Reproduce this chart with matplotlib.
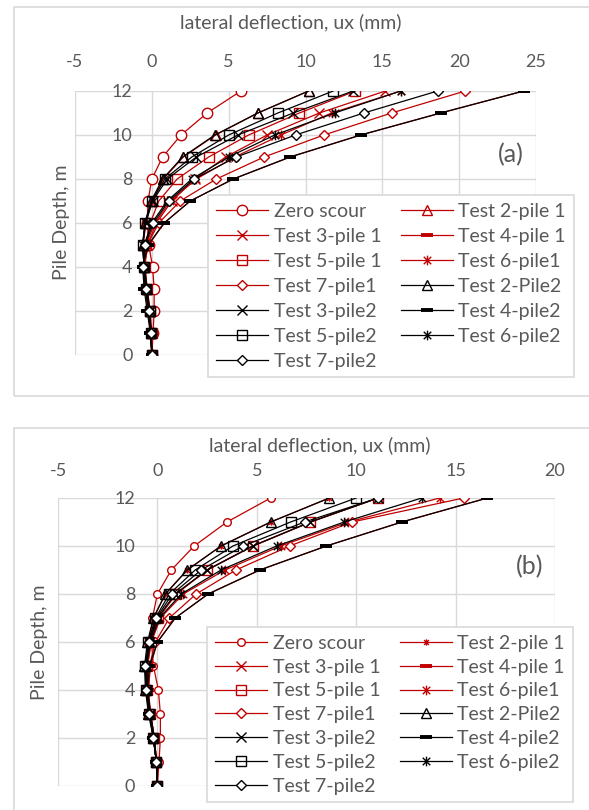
import numpy as np
import matplotlib.pyplot as plt
from matplotlib.path import Path
from matplotlib.patches import Rectangle

plt.rcParams['font.family'] = ['Lato', 'DejaVu Sans']
plt.rcParams['axes.unicode_minus'] = False

# pile depth (m), same for every series
depth = [12, 11, 10, 9, 8, 7, 6, 5, 4, 3, 2, 1, 0]

# (a) lateral deflection ux (mm)
a_zero = [5.8, 3.6, 1.9, 0.7, 0.0, -0.25, -0.3, -0.2, 0.05, 0.15, 0.15, 0.08, 0.0]
a_t2_p1 = [10.2, 6.9, 4.15, 2.05, 0.75, 0.0, -0.4, -0.55, -0.45, -0.3, -0.15, -0.05, 0.0]
a_t3_p1 = [15.2, 10.9, 7.5, 4.8, 2.8, 1.3, 0.3, -0.3, -0.45, -0.35, -0.15, -0.05, 0.0]
a_t4_p1 = [24.2, 18.8, 13.6, 9.0, 5.3, 2.5, 0.8, -0.2, -0.55, -0.45, -0.25, -0.08, 0.0]
a_t5_p1 = [13.25, 9.6, 6.3, 3.7, 1.65, 0.45, -0.1, -0.4, -0.45, -0.3, -0.1, 0.0, 0.0]
a_t6_p1 = [16.2, 11.7, 8.4, 5.4, 2.9, 1.2, 0.2, -0.4, -0.5, -0.35, -0.15, -0.05, 0.0]
a_t7_p1 = [20.4, 15.6, 11.2, 7.3, 4.2, 1.85, 0.45, -0.3, -0.5, -0.4, -0.2, -0.05, 0.0]
a_t2_p2 = [10.2, 6.9, 4.1, 2.0, 0.7, -0.05, -0.45, -0.6, -0.5, -0.3, -0.15, -0.05, 0.0]
a_t3_p2 = [13.1, 9.2, 5.6, 2.9, 1.0, 0.05, -0.4, -0.6, -0.5, -0.35, -0.15, -0.05, 0.0]
a_t4_p2 = [24.2, 18.8, 13.6, 9.0, 5.3, 2.5, 0.8, -0.25, -0.6, -0.5, -0.3, -0.1, 0.0]
a_t5_p2 = [11.8, 8.2, 5.0, 2.6, 0.85, 0.0, -0.45, -0.6, -0.5, -0.35, -0.15, -0.05, 0.0]
a_t6_p2 = [16.2, 11.9, 8.0, 5.0, 2.6, 1.0, 0.0, -0.5, -0.55, -0.4, -0.2, -0.05, 0.0]
a_t7_p2 = [18.6, 13.8, 9.35, 5.5, 2.75, 1.1, 0.1, -0.45, -0.55, -0.4, -0.2, -0.05, 0.0]

# (b) lateral deflection ux (mm)
b_zero = [5.7, 3.5, 1.85, 0.7, 0.0, -0.25, -0.3, -0.2, 0.05, 0.15, 0.15, 0.08, 0.0]
b_t2_p1 = [8.65, 5.7, 3.2, 1.5, 0.4, -0.2, -0.45, -0.6, -0.55, -0.4, -0.2, -0.05, 0.0]
b_t3_p1 = [11.1, 7.7, 4.8, 2.5, 0.9, 0.05, -0.35, -0.55, -0.5, -0.35, -0.15, -0.05, 0.0]
b_t4_p1 = [16.6, 12.3, 8.5, 5.15, 2.55, 0.9, 0.0, -0.35, -0.45, -0.35, -0.2, -0.05, 0.0]
b_t5_p1 = [11.1, 7.7, 4.8, 2.5, 0.95, 0.05, -0.35, -0.5, -0.5, -0.35, -0.15, -0.05, 0.0]
b_t6_p1 = [14.2, 9.6, 6.2, 3.4, 1.3, 0.15, -0.3, -0.5, -0.5, -0.35, -0.15, -0.05, 0.0]
b_t7_p1 = [15.4, 9.8, 6.65, 3.95, 1.95, 0.6, -0.1, -0.4, -0.45, -0.35, -0.15, -0.05, 0.0]
b_t2_p2 = [8.65, 5.7, 3.2, 1.5, 0.4, -0.2, -0.5, -0.65, -0.6, -0.45, -0.2, -0.05, 0.0]
b_t3_p2 = [11.1, 7.7, 4.8, 2.5, 0.9, 0.0, -0.4, -0.55, -0.5, -0.35, -0.2, -0.05, 0.0]
b_t4_p2 = [16.6, 12.3, 8.5, 5.15, 2.55, 0.9, 0.0, -0.4, -0.5, -0.4, -0.2, -0.05, 0.0]
b_t5_p2 = [10.0, 6.7, 3.8, 1.9, 0.6, -0.1, -0.45, -0.6, -0.55, -0.4, -0.2, -0.05, 0.0]
b_t6_p2 = [13.3, 9.4, 6.0, 3.2, 1.2, 0.1, -0.35, -0.55, -0.5, -0.35, -0.15, -0.05, 0.0]
b_t7_p2 = [11.1, 7.4, 4.3, 2.2, 0.75, -0.05, -0.4, -0.6, -0.55, -0.4, -0.2, -0.05, 0.0]

labels = ['Zero scour', 'Test 2-pile 1', 'Test 3-pile 1', 'Test 4-pile 1',
          'Test 5-pile 1', 'Test 6-pile1', 'Test 7-pile1', 'Test 2-Pile2',
          'Test 3-pile2', 'Test 4-pile2', 'Test 5-pile2', 'Test 6-pile2',
          'Test 7-pile2']

RED = '#C00000'
GREY = '#595959'
GRID = '#D9D9D9'

# excel-like "star" marker: an x with a vertical bar through it
star = Path([(-1, -1), (1, 1), (-1, 1), (1, -1), (0, -1.3), (0, 1.3)],
            [Path.MOVETO, Path.LINETO] * 3)

# marker, face colour, size for (a) and (b)
mk_a = [('o', 'white', 7.5), ('^', 'none', 7.5), ('x', 'none', 7), ('_', 'none', 8),
        ('s', 'none', 7), (star, 'none', 7), ('D', 'white', 5.5), ('^', 'none', 7.5),
        ('x', 'none', 7), ('_', 'none', 8), ('s', 'none', 7), (star, 'none', 7),
        ('D', 'white', 5.5)]
mk_b = [('o', 'white', 5.5), (star, 'none', 4.5), ('x', 'none', 7), ('_', 'none', 8),
        ('s', 'none', 7), (star, 'none', 7), ('D', 'white', 5.5), ('^', 'none', 7.5),
        ('x', 'none', 7), ('_', 'none', 8), ('s', 'none', 7), (star, 'none', 7),
        ('D', 'white', 5.5)]

W, H = 589, 810


def fx(px):
    return px / W


def fy(py):
    return 1 - py / H


def panel(ax, series, markers, xmax, tag, tag_xy, pad_x, pad_y):
    handles = []
    for i, (vals, (m, fc, ms)) in enumerate(zip(series, markers)):
        col = RED if i < 7 else 'black'
        mew = 2.8 if m == '_' else 1.0
        h, = ax.plot(vals, depth, color=col, lw=0.9, marker=m, ms=ms,
                     mfc=fc, mec=col, mew=mew, label=labels[i], zorder=3 + i)
        handles.append(h)
    ax.set_xlim(-5, xmax)
    ax.set_ylim(0, 12)
    ax.set_xticks(np.arange(-5, xmax + 1, 5))
    ax.set_yticks(np.arange(0, 13, 2))
    ax.grid(color=GRID, lw=1.0)
    ax.set_axisbelow(True)
    for s in ['top', 'bottom', 'right']:
        ax.spines[s].set_visible(False)
    ax.spines['left'].set_position(('data', 0))
    ax.spines['left'].set_visible(False)
    ax.xaxis.tick_top()
    ax.tick_params(axis='x', length=0, pad=pad_x, labelsize=13, labelcolor=GREY)
    ax.tick_params(axis='y', length=0, pad=pad_y, labelsize=13, labelcolor=GREY)
    ax.text(tag_xy[0], tag_xy[1], tag, transform=ax.figure.transFigure,
            fontsize=18, color=GREY, ha='center', va='center')
    return handles


fig = plt.figure(figsize=(W / 100, H / 100), dpi=100)

# chart area borders
fig.patches.append(Rectangle((fx(14), fy(396)), fx(600 - 14), (396 - 7) / H,
                             transform=fig.transFigure, fill=False, ec=GRID, lw=1.2))
fig.patches.append(Rectangle((fx(14), fy(820)), fx(600 - 14), (820 - 428) / H,
                             transform=fig.transFigure, fill=False, ec=GRID, lw=1.2))

ax1 = fig.add_axes([fx(75), fy(355), (536 - 75) / W, (355 - 91) / H])
ser_a = [a_zero, a_t2_p1, a_t3_p1, a_t4_p1, a_t5_p1, a_t6_p1, a_t7_p1,
         a_t2_p2, a_t3_p2, a_t4_p2, a_t5_p2, a_t6_p2, a_t7_p2]
h1 = panel(ax1, ser_a, mk_a, 25, '(a)', (fx(511), fy(155)), 15, 14)

ax2 = fig.add_axes([fx(58), fy(786), (555 - 58) / W, (786 - 498) / H])
ser_b = [b_zero, b_t2_p1, b_t3_p1, b_t4_p1, b_t5_p1, b_t6_p1, b_t7_p1,
         b_t2_p2, b_t3_p2, b_t4_p2, b_t5_p2, b_t6_p2, b_t7_p2]
h2 = panel(ax2, ser_b, mk_b, 20, '(b)', (fx(530), fy(567)), 14, 16)

fig.text(fx(291), fy(22), 'lateral deflection, ux (mm)', fontsize=14, color=GREY,
         ha='center', va='center')
fig.text(fx(320), fy(445), 'lateral deflection, ux (mm)', fontsize=14, color=GREY,
         ha='center', va='center')
fig.text(fx(62), fy(222), 'Pile Depth, m', fontsize=14, color=GREY, rotation=90,
         ha='center', va='center')
fig.text(fx(40), fy(642), 'Pile Depth, m', fontsize=14, color=GREY, rotation=90,
         ha='center', va='center')

# excel fills the legend row by row, matplotlib column by column
order = [0, 2, 4, 6, 8, 10, 12, 1, 3, 5, 7, 9, 11]
for hs, (lx, ly), lsp in [(h1, (208, 195), 0.41), (h2, (207, 627), 0.35)]:
    leg = fig.legend([hs[k] for k in order], [labels[k] for k in order], ncol=2,
                     loc='upper left', bbox_to_anchor=(fx(lx), fy(ly)),
                     bbox_transform=fig.transFigure, borderaxespad=0,
                     fontsize=14, frameon=True, fancybox=False, framealpha=1,
                     edgecolor=GRID, handlelength=2.67, handletextpad=0.3,
                     columnspacing=1.0, labelspacing=lsp, borderpad=0.4)
    leg.get_frame().set_linewidth(1.2)
    for t in leg.get_texts():
        t.set_color(GREY)

fig.savefig('out.png', dpi=100)
